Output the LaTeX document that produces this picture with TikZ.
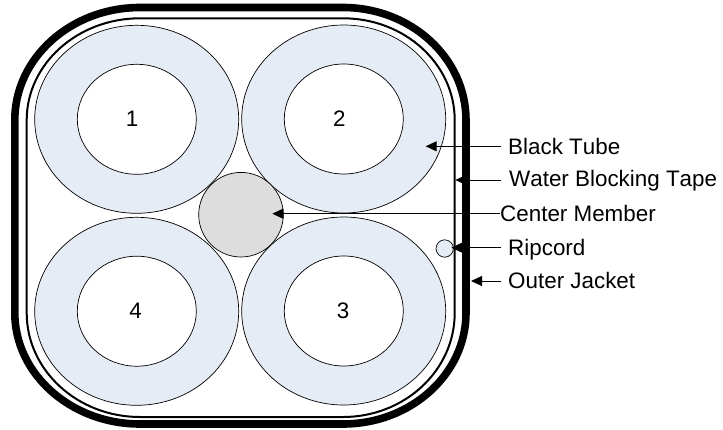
\documentclass[tikz,border=0pt]{standalone}
\usepackage{fontspec}
\setmainfont[Kerning=Off]{Liberation Sans}
\usetikzlibrary{arrows.meta,shapes.geometric}
\definecolor{tubeblue}{RGB}{230,236,246}
\definecolor{memgray}{RGB}{221,221,221}
\tikzset{
  x=1pt,y=-1pt,
  tube/.style={ellipse,draw=black,line width=0.7pt,fill=tubeblue,inner sep=0pt,minimum width=204pt,minimum height=188pt},
  core/.style={ellipse,draw=black,line width=0.7pt,fill=white,inner sep=0pt,minimum width=119pt,minimum height=110pt},
  digit/.style={inner sep=0pt,font=\fontsize{22.4}{26}\selectfont},
  lab/.style={anchor=base west,inner sep=0pt,font=\fontsize{22.4}{26}\selectfont},
  lead/.style={line width=1pt,-{Triangle[length=11pt,width=10pt]}},
}
\begin{document}
\begin{tikzpicture}
\useasboundingbox (0,0) rectangle (723,429);
\draw[line width=7.6pt] (14.8,120) .. controls (14.8,58) and (71,7.5) .. (140,7.5) -- (343,7.5) .. controls (411,7.5) and (466,58) .. (466,120) -- (466,313) .. controls (466,374) and (411,424) .. (343,424) -- (140,424) .. controls (71,424) and (14.8,374) .. (14.8,313) -- cycle;
\draw[line width=2pt] (26.7,120) .. controls (26.7,64) and (77.6,18.3) .. (140,18.3) -- (343,18.3) .. controls (404.7,18.3) and (454.7,64) .. (454.7,120) -- (454.7,313) .. controls (454.7,370.4) and (404.7,417) .. (343,417) -- (140,417) .. controls (77.6,417) and (26.7,370.4) .. (26.7,313) -- cycle;
\node[tube] (t1) at (136.7,119.3) {};
\node[tube] (t2) at (343.7,119) {};
\node[tube] (t3) at (343.7,311) {};
\node[tube] (t4) at (136.7,311.3) {};
\node[core] (c1) at (136.8,119.3) {};
\node[core] (c2) at (343.8,119) {};
\node[core] (c3) at (343.8,311) {};
\node[core] (c4) at (136.8,311.2) {};
\node[digit] (n1) at (132,119) {1};
\node[digit] (n2) at (339.3,119) {2};
\node[digit] (n3) at (343,310.3) {3};
\node[digit] (n4) at (135.7,310.7) {4};
\node[circle,draw=black,line width=0.7pt,fill=memgray,inner sep=0pt,minimum size=84.6pt] (cm) at (241,214.7) {};
\node[circle,draw=black,line width=0.7pt,fill=tubeblue,inner sep=0pt,minimum size=17.4pt] (rc) at (444.7,248.5) {};
\node[lab] (lb) at (508,154.3) {Black Tube};
\node[lab] (lw) at (509,186.7) {Water Blocking Tape};
\node[lab] (lc) at (500,221.7) {Center Member};
\node[lab] (lr) at (508,255) {Ripcord};
\node[lab] (lo) at (508,288.3) {Outer Jacket};
\coordinate (ab) at (425.7,146.3);
\coordinate (aw) at (455.3,180);
\coordinate (ac) at (272.3,213.7);
\coordinate (ar) at (451.3,247.7);
\coordinate (ao) at (471,281);
\coordinate (sb) at (501,146.3);
\coordinate (sw) at (501,180);
\coordinate (sr) at (501,247.7);
\coordinate (so) at (501,281);
\draw[lead] (sb) -- (ab);
\draw[lead] (sw) -- (aw);
\draw[lead] (lc.west) -- (ac |- lc.west);
\draw[lead] (sr) -- (ar);
\draw[lead] (so) -- (ao);
\end{tikzpicture}
\end{document}
